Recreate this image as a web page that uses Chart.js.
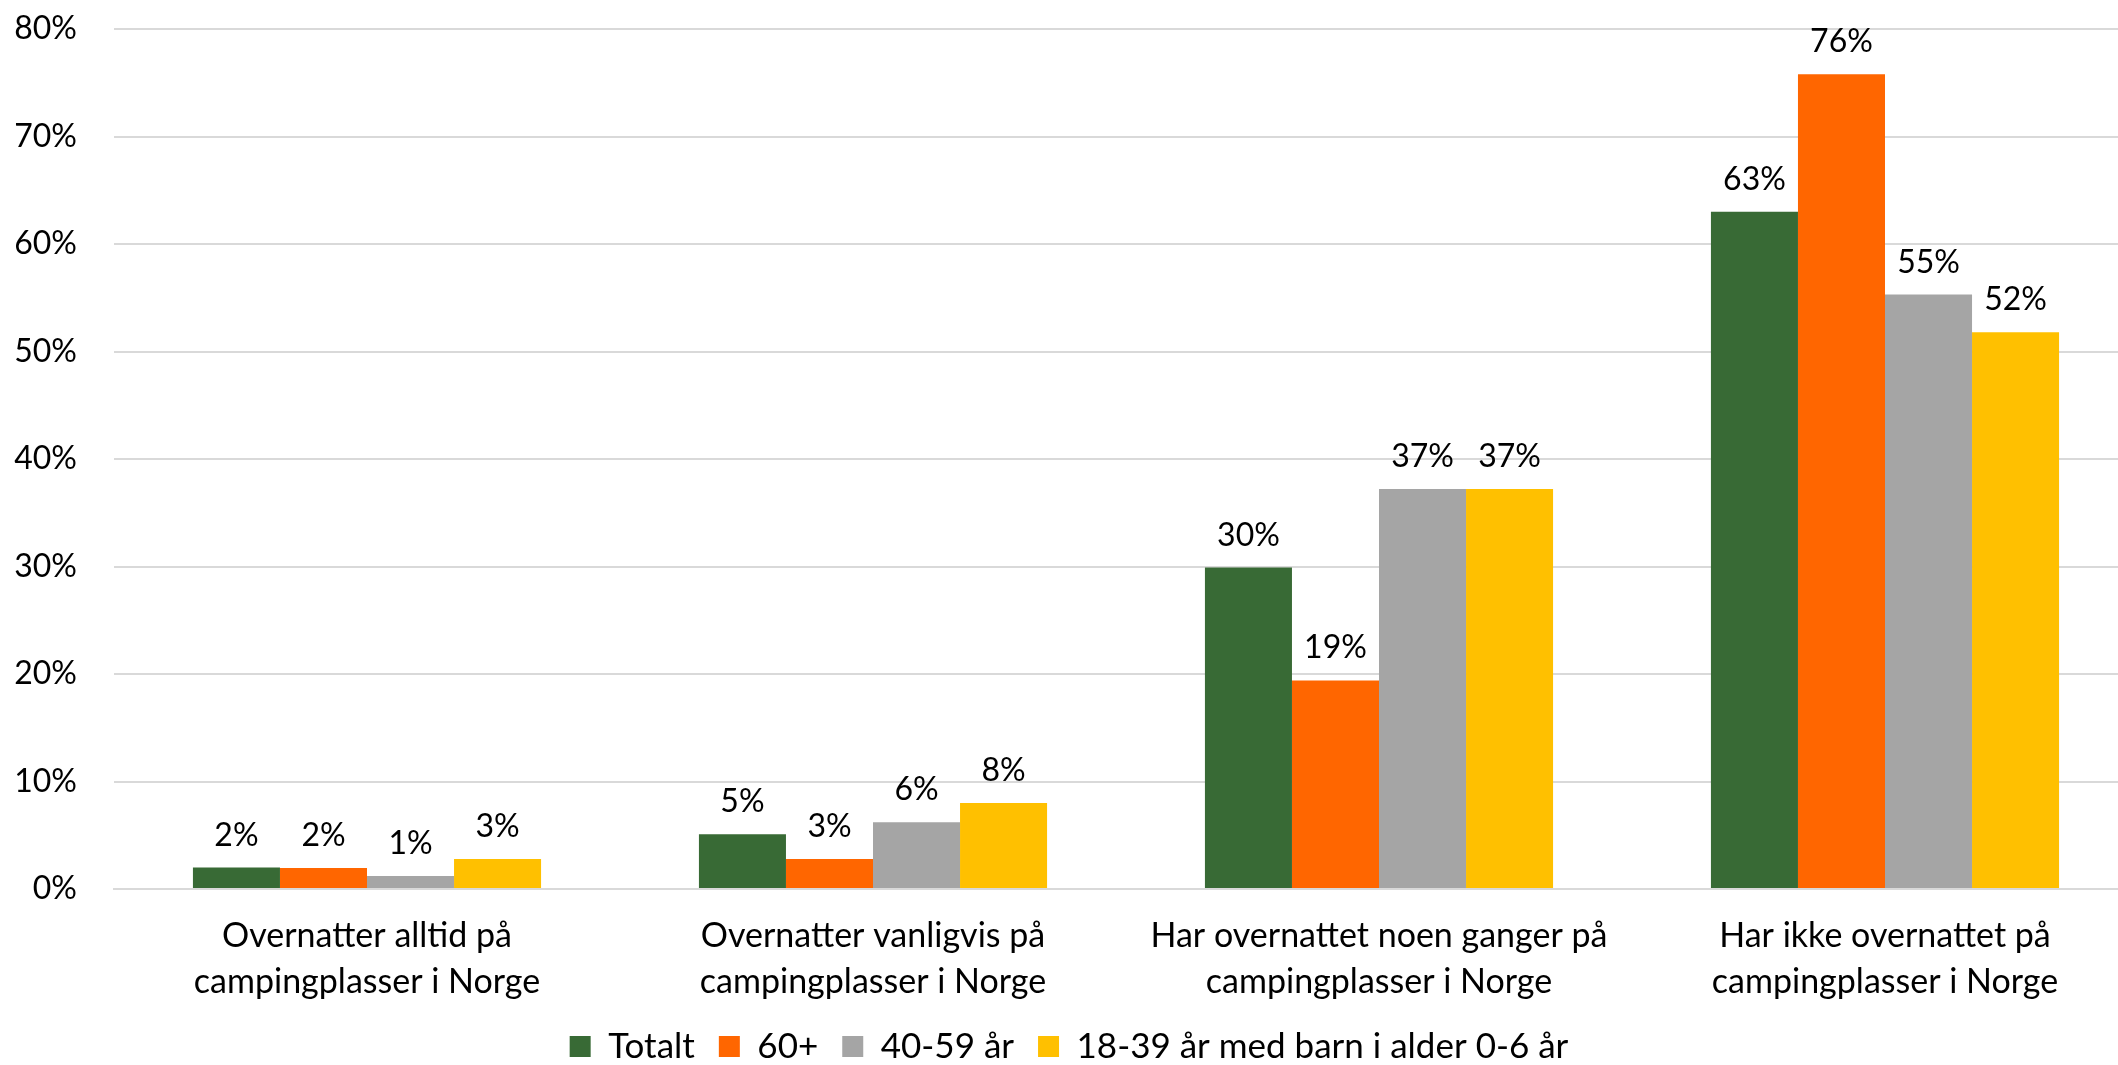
<!DOCTYPE html>
<html>
<head>
<meta charset="utf-8">
<script src="https://cdn.jsdelivr.net/npm/chart.js@4.4.0/dist/chart.umd.min.js"></script>
<style>
  html, body { margin: 0; padding: 0; background: #fff; overflow: hidden; }
  #wrap { position: relative; width: 2200px; height: 1065px; }
</style>
</head>
<body>
<div id="wrap"><canvas id="chart"></canvas></div>
<script>
// Categories (two-line labels) and series values in percent
const categories = [
    ['Overnatter alltid på', 'campingplasser i Norge'],
    ['Overnatter vanligvis på', 'campingplasser i Norge'],
    ['Har overnattet noen ganger på', 'campingplasser i Norge'],
    ['Har ikke overnattet på', 'campingplasser i Norge']
];
const seriesNames = ['Totalt', '60+', '40-59 år', '18-39 år med barn i alder 0-6 år'];
const totalt = [2.0, 5.1, 29.9, 63.0];
const age60 = [1.95, 2.8, 19.4, 75.8];
const age40 = [1.2, 6.2, 37.2, 55.3];
const age18 = [2.8, 8.0, 37.2, 51.8];
const seriesColors = ['#386A35', '#FF6600', '#A5A5A5', '#FFC000'];
const yTicks = [0, 10, 20, 30, 40, 50, 60, 70, 80];

const FONT = 'Lato';
Chart.defaults.font.family = FONT;
Chart.defaults.font.size = 32;
Chart.defaults.color = '#000';

// Draw the value labels above each bar
const barLabels = {
    id: 'barLabels',
    afterDatasetsDraw(chart) {
        const ctx = chart.ctx;
        ctx.save();
        ctx.font = '32px ' + FONT;
        ctx.fillStyle = '#000';
        ctx.textAlign = 'center';
        ctx.textBaseline = 'alphabetic';
        chart.data.datasets.forEach((ds, i) => {
            chart.getDatasetMeta(i).data.forEach((bar, j) => {
                ctx.fillText(Math.round(ds.data[j]) + '%', bar.x, bar.y - 22);
            });
        });
        ctx.restore();
    }
};

const allSeries = [totalt, age60, age40, age18];

new Chart(document.getElementById('chart'), {
    type: 'bar',
    data: {
        labels: categories,
        datasets: allSeries.map((data, i) => ({
            label: seriesNames[i],
            data: data,
            backgroundColor: seriesColors[i],
            borderWidth: 0,
            barPercentage: 1,
            categoryPercentage: 0.688
        }))
    },
    options: {
        responsive: true,
        maintainAspectRatio: false,
        animation: false,
        layout: { padding: { left: 0, right: 62, top: 29, bottom: -9 } },
        plugins: {
            legend: {
                position: 'bottom',
                labels: {
                    boxWidth: 21,
                    boxHeight: 21,
                    padding: 24,
                    color: '#000',
                    font: { size: 35 }
                }
            },
            tooltip: { enabled: false }
        },
        scales: {
            x: {
                grid: { display: false, drawTicks: false },
                border: { color: '#D9D9D9', width: 2 },
                ticks: { padding: 24, maxRotation: 0, autoSkip: false, font: { size: 34, lineHeight: 1.353 } },
                afterFit(scale) { scale.height = 116; }
            },
            y: {
                min: 0,
                max: 80,
                afterBuildTicks(scale) { scale.ticks = yTicks.map(v => ({ value: v })); },
                // invisible tick marks give the gap between labels and plot
                grid: { color: '#D9D9D9', lineWidth: 2, drawTicks: true, tickLength: 37, tickColor: 'rgba(0,0,0,0)' },
                border: { display: false },
                ticks: {
                    padding: 0,
                    callback: v => v + '%'
                },
                afterFit(scale) { scale.width = 114; }
            }
        }
    },
    plugins: [barLabels]
});
</script>
</body>
</html>
